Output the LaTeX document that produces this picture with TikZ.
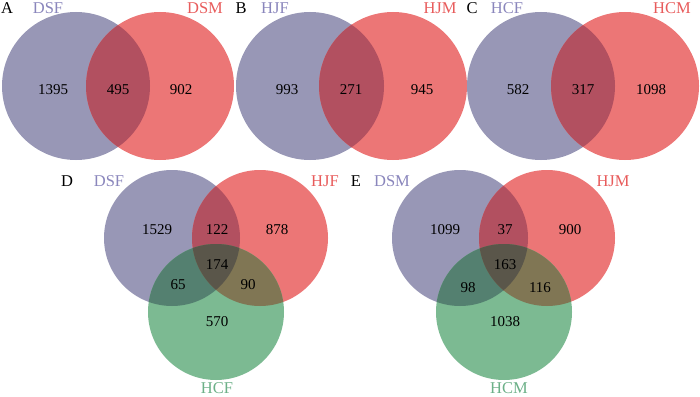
\documentclass[tikz,border=0pt]{standalone}
\usepackage{fontspec}
\setmainfont{Liberation Serif}

\definecolor{vblue}{RGB}{152,151,182}
\definecolor{vred}{RGB}{236,118,118}
\definecolor{vgreen}{RGB}{124,186,146}
\definecolor{vredblue}{RGB}{178,80,96}
\definecolor{vgreenblue}{RGB}{84,128,112}
\definecolor{vgreenred}{RGB}{128,118,84}
\definecolor{vall}{RGB}{90,86,74}
\definecolor{tblue}{RGB}{138,134,188}
\definecolor{tred}{RGB}{232,92,92}
\definecolor{tgreen}{RGB}{108,176,136}

\begin{document}
\begin{tikzpicture}[
    x=1pt, y=-1pt,
    % Define styles
    count/.style={
        font=\fontsize{15}{17}\selectfont,
        inner sep=0pt
    },
    setname/.style={
        font=\fontsize{16.5}{18}\selectfont,
        inner sep=0pt
    },
    panel/.style={
        font=\fontsize{16.5}{18}\selectfont,
        inner sep=0pt
    }
]

% Canvas
\useasboundingbox (0,0) rectangle (700,396);

% Variables
\def\radtop{74pt}
\def\radbot{68pt}
\def\toprow{86}
\def\rowy{238}
\def\lowy{312}

% ---------- Panel A ----------
\fill[vblue] (76,\toprow) circle[radius=\radtop];
\fill[vred] (160,\toprow) circle[radius=\radtop];
\begin{scope}
    \clip (76,\toprow) circle[radius=\radtop];
    \fill[vredblue] (160,\toprow) circle[radius=\radtop];
\end{scope}
\node[panel] (labA) at (7,8) {A};
\node[setname, text=tblue] (dsfA) at (48,8) {DSF};
\node[setname, text=tred] (dsmA) at (205,8) {DSM};
\node[count] (a1) at (53,90) {1395};
\node[count] (a2) at (118,90) {495};
\node[count] (a3) at (181,90) {902};

% ---------- Panel B ----------
\fill[vblue] (310,\toprow) circle[radius=\radtop];
\fill[vred] (393,\toprow) circle[radius=\radtop];
\begin{scope}
    \clip (310,\toprow) circle[radius=\radtop];
    \fill[vredblue] (393,\toprow) circle[radius=\radtop];
\end{scope}
\node[panel] (labB) at (241,8) {B};
\node[setname, text=tblue] (hjfB) at (275,8) {HJF};
\node[setname, text=tred] (hjmB) at (440,8) {HJM};
\node[count] (b1) at (287,90) {993};
\node[count] (b2) at (351,90) {271};
\node[count] (b3) at (422,90) {945};

% ---------- Panel C ----------
\fill[vblue] (541,\toprow) circle[radius=\radtop];
\fill[vred] (625,\toprow) circle[radius=\radtop];
\begin{scope}
    \clip (541,\toprow) circle[radius=\radtop];
    \fill[vredblue] (625,\toprow) circle[radius=\radtop];
\end{scope}
\node[panel] (labC) at (472,8) {C};
\node[setname, text=tblue] (hcfC) at (507,8) {HCF};
\node[setname, text=tred] (hcmC) at (672,8) {HCM};
\node[count] (c1) at (518,90) {582};
\node[count] (c2) at (583,90) {317};
\node[count] (c3) at (651,90) {1098};

% ---------- Panel D ----------
\fill[vblue] (172,\rowy) circle[radius=\radbot];
\fill[vred] (260,\rowy) circle[radius=\radbot];
\fill[vgreen] (216,\lowy) circle[radius=\radbot];
\begin{scope}
    \clip (172,\rowy) circle[radius=\radbot];
    \fill[vredblue] (260,\rowy) circle[radius=\radbot];
    \fill[vgreenblue] (216,\lowy) circle[radius=\radbot];
\end{scope}
\begin{scope}
    \clip (260,\rowy) circle[radius=\radbot];
    \fill[vgreenred] (216,\lowy) circle[radius=\radbot];
    \clip (172,\rowy) circle[radius=\radbot];
    \fill[vall] (216,\lowy) circle[radius=\radbot];
\end{scope}
\node[panel] (labD) at (67,181) {D};
\node[setname, text=tblue] (dsfD) at (109,181) {DSF};
\node[setname, text=tred] (hjfD) at (325,181) {HJF};
\node[setname, text=tgreen] (hcfD) at (217,388) {HCF};
\node[count] (d1) at (157,230) {1529};
\node[count] (d2) at (217,230) {122};
\node[count] (d3) at (277,230) {878};
\node[count] (d4) at (217,265) {174};
\node[count] (d5) at (178,285) {65};
\node[count] (d6) at (248,285) {90};
\node[count] (d7) at (217,322) {570};

% ---------- Panel E ----------
\fill[vblue] (460,\rowy) circle[radius=\radbot];
\fill[vred] (547,\rowy) circle[radius=\radbot];
\fill[vgreen] (504,\lowy) circle[radius=\radbot];
\begin{scope}
    \clip (460,\rowy) circle[radius=\radbot];
    \fill[vredblue] (547,\rowy) circle[radius=\radbot];
    \fill[vgreenblue] (504,\lowy) circle[radius=\radbot];
\end{scope}
\begin{scope}
    \clip (547,\rowy) circle[radius=\radbot];
    \fill[vgreenred] (504,\lowy) circle[radius=\radbot];
    \clip (460,\rowy) circle[radius=\radbot];
    \fill[vall] (504,\lowy) circle[radius=\radbot];
\end{scope}
\node[panel] (labE) at (356,181) {E};
\node[setname, text=tblue] (dsmE) at (392,181) {DSM};
\node[setname, text=tred] (hjmE) at (613,181) {HJM};
\node[setname, text=tgreen] (hcmE) at (509,388) {HCM};
\node[count] (e1) at (445,230) {1099};
\node[count] (e2) at (505,230) {37};
\node[count] (e3) at (570,230) {900};
\node[count] (e4) at (505,265) {163};
\node[count] (e5) at (468,288) {98};
\node[count] (e6) at (540,288) {116};
\node[count] (e7) at (505,322) {1038};

\end{tikzpicture}
\end{document}
